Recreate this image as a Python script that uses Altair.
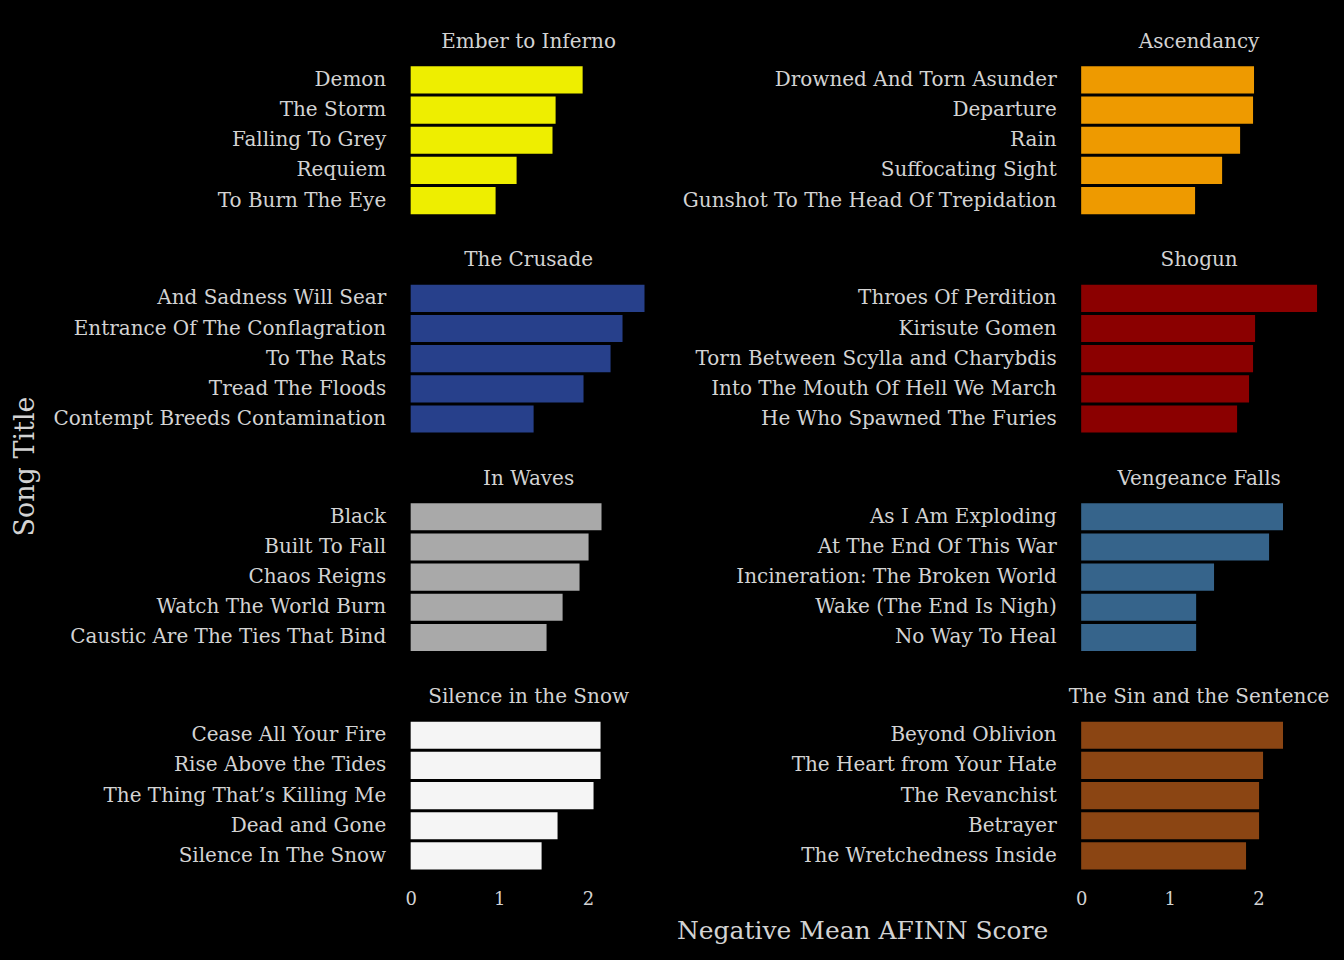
import altair as alt
import pandas as pd

FONT = "DejaVu Serif"
TEXT = "#D3D3D3"

# Left column albums
left_albums = ["Ember to Inferno", "The Crusade", "In Waves", "Silence in the Snow"]
left_colors = ["#EEEE00", "#27408B", "#A9A9A9", "#F5F5F5"]
ember_songs = ["Demon", "The Storm", "Falling To Grey", "Requiem", "To Burn The Eye"]
ember_vals = [1.94, 1.635, 1.60, 1.195, 0.958]
crusade_songs = ["And Sadness Will Sear", "Entrance Of The Conflagration", "To The Rats",
                 "Tread The Floods", "Contempt Breeds Contamination"]
crusade_vals = [2.638, 2.39, 2.255, 1.95, 1.387]
waves_songs = ["Black", "Built To Fall", "Chaos Reigns", "Watch The World Burn",
               "Caustic Are The Ties That Bind"]
waves_vals = [2.153, 2.007, 1.905, 1.714, 1.533]
snow_songs = ["Cease All Your Fire", "Rise Above the Tides", "The Thing That\u2019s Killing Me",
              "Dead and Gone", "Silence In The Snow"]
snow_vals = [2.142, 2.142, 2.063, 1.657, 1.477]

# Right column albums
right_albums = ["Ascendancy", "Shogun", "Vengeance Falls", "The Sin and the Sentence"]
right_colors = ["#EE9A00", "#8B0000", "#36648B", "#8B4513"]
asc_songs = ["Drowned And Torn Asunder", "Departure", "Rain", "Suffocating Sight",
             "Gunshot To The Head Of Trepidation"]
asc_vals = [1.95, 1.939, 1.793, 1.59, 1.285]
shogun_songs = ["Throes Of Perdition", "Kirisute Gomen", "Torn Between Scylla and Charybdis",
                "Into The Mouth Of Hell We March", "He Who Spawned The Furies"]
shogun_vals = [2.661, 1.962, 1.939, 1.894, 1.759]
veng_songs = ["As I Am Exploding", "At The End Of This War", "Incineration: The Broken World",
              "Wake (The End Is Nigh)", "No Way To Heal"]
veng_vals = [2.277, 2.12, 1.499, 1.297, 1.297]
sin_songs = ["Beyond Oblivion", "The Heart from Your Hate", "The Revanchist", "Betrayer",
             "The Wretchedness Inside"]
sin_vals = [2.277, 2.052, 2.007, 2.007, 1.86]

left_songs = [ember_songs, crusade_songs, waves_songs, snow_songs]
left_vals = [ember_vals, crusade_vals, waves_vals, snow_vals]
right_songs = [asc_songs, shogun_songs, veng_songs, sin_songs]
right_vals = [asc_vals, shogun_vals, veng_vals, sin_vals]

x_ticks = [0, 1, 2]


def panel(album, songs, values, color, bottom):
    df = pd.DataFrame({"song": songs, "score": values})
    if bottom:
        x_axis = alt.Axis(values=x_ticks, format="d", grid=False, domain=False, ticks=False,
                          labelPadding=17, labelFontSize=18, labelColor=TEXT, labelFont=FONT,
                          title=None)
    else:
        x_axis = None
    return alt.Chart(df).mark_bar(color=color).encode(
        x=alt.X("score:Q", scale=alt.Scale(domain=[-0.135, 2.796], nice=False), axis=x_axis),
        x2=alt.datum(0),
        y=alt.Y("song:N", sort=songs,
                scale=alt.Scale(paddingInner=0.1, paddingOuter=0.15),
                axis=alt.Axis(title=None, domain=False, ticks=False, grid=False,
                              labelPadding=13, labelFontSize=20, labelColor=TEXT,
                              labelFont=FONT, labelLimit=600)),
    ).properties(
        width=260, height=157,
        title=alt.TitleParams(album, fontSize=20, font=FONT, color=TEXT, fontWeight="normal",
                              anchor="middle", frame="group", offset=10),
    )


left_col = alt.vconcat(
    *[panel(a, s, v, c, i == 3) for i, (a, s, v, c) in
      enumerate(zip(left_albums, left_songs, left_vals, left_colors))],
    spacing=31.6,
)
right_col = alt.vconcat(
    *[panel(a, s, v, c, i == 3) for i, (a, s, v, c) in
      enumerate(zip(right_albums, right_songs, right_vals, right_colors))],
    spacing=31.6,
)

song_title = alt.Chart(pd.DataFrame({"t": ["Song Title"]})).mark_text(
    angle=270, font=FONT, fontSize=27, color=TEXT, align="center", baseline="middle"
).encode(
    text="t:N", x=alt.value(26), y=alt.value(405)
).properties(width=44, height=820)

columns = alt.hconcat(left_col, right_col, spacing=23)

chart = alt.hconcat(song_title, columns, spacing=8).properties(
    title=alt.TitleParams("Negative Mean AFINN Score", orient="bottom", fontSize=25, font=FONT,
                          color=TEXT, fontWeight="normal", anchor="middle", offset=10, dx=198),
    background="black",
    padding={"left": 0, "right": 14, "top": 31.5, "bottom": 15},
).configure_view(stroke=None)

chart.save("out.html", embed_options={"renderer": "svg", "actions": False})
